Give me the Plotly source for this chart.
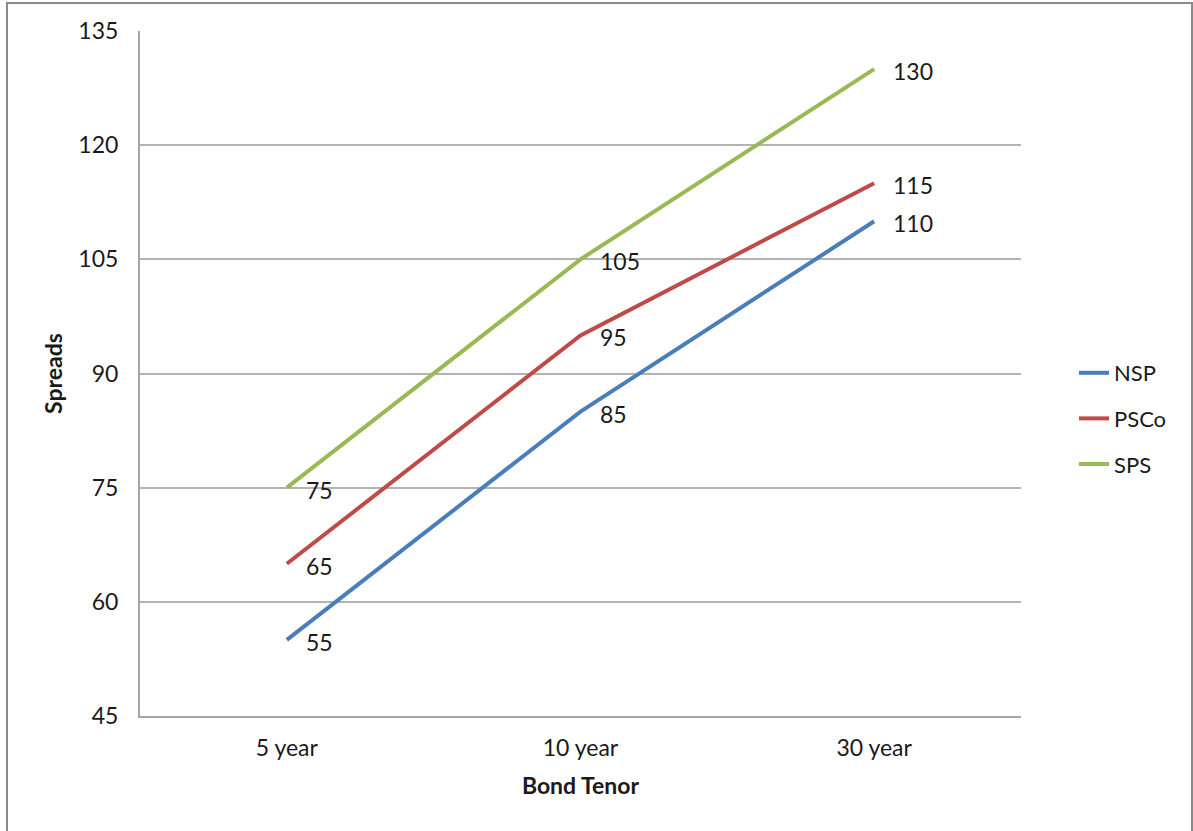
import plotly.graph_objects as go

categories = ["5 year", "10 year", "30 year"]
series_names = ["NSP", "PSCo", "SPS"]
nsp = [55, 85, 110]
psco = [65, 95, 115]
sps = [75, 105, 130]
y_ticks = [45, 60, 75, 90, 105, 120, 135]
colors = ["#4a7ebb", "#be4b48", "#98b954"]

FONT = "Lato"
W, H = 1193, 831
L, R, T, B = 140, 172, 31, 115
PW, PH = W - L - R, H - T - B

fig = go.Figure()
for name, vals, c in zip(series_names, [nsp, psco, sps], colors):
    fig.add_trace(go.Scatter(x=categories, y=vals, mode="lines", name=name,
                             legendgroup=name,
                             line=dict(color=c, width=4)))
    for cat, v in zip(categories, vals):
        fig.add_annotation(x=cat, y=v, text=str(v), showarrow=False,
                           xanchor="left", yanchor="middle", xshift=17, yshift=-2,
                           font=dict(family=FONT, size=23, color="#1a1a1a"))

def px(x):
    return (x - L) / PW

def py(y):
    return (H - B - y) / PH

fig.add_shape(type="rect", xref="paper", yref="paper",
              x0=px(7), x1=px(1192), y0=py(840), y1=py(3),
              line=dict(color="#8a8a8a", width=2), fillcolor="rgba(0,0,0,0)", layer="below")

fig.update_layout(
    width=W, height=H,
    margin=dict(l=L, r=R, t=T, b=B),
    paper_bgcolor="white", plot_bgcolor="white",
    font=dict(family=FONT, size=23, color="#1a1a1a"),
    showlegend=True,
    legend=dict(x=px(1074), y=py(352), xanchor="left", yanchor="top",
                font=dict(family=FONT, size=22, color="#1a1a1a"),
                tracegroupgap=14, itemwidth=30),
    xaxis=dict(type="category", categoryorder="array", categoryarray=categories,
               range=[-0.5, 2.5], showgrid=False, showline=True, linecolor="#a6a6a6",
               linewidth=2, ticks="", ticklabelstandoff=10,
               title=dict(text="<b>Bond Tenor</b>", font=dict(family=FONT, size=23), standoff=18),
               zeroline=False),
    yaxis=dict(range=[45, 135], tickvals=y_ticks, showgrid=True, gridcolor="#b3b3b3",
               gridwidth=1.5, showline=True, linecolor="#a6a6a6", linewidth=2,
               ticks="", ticklabelstandoff=15, zeroline=False,
               title=dict(text="<b>Spreads</b>", font=dict(family=FONT, size=23), standoff=9)),
)

fig.write_html("out.html")
